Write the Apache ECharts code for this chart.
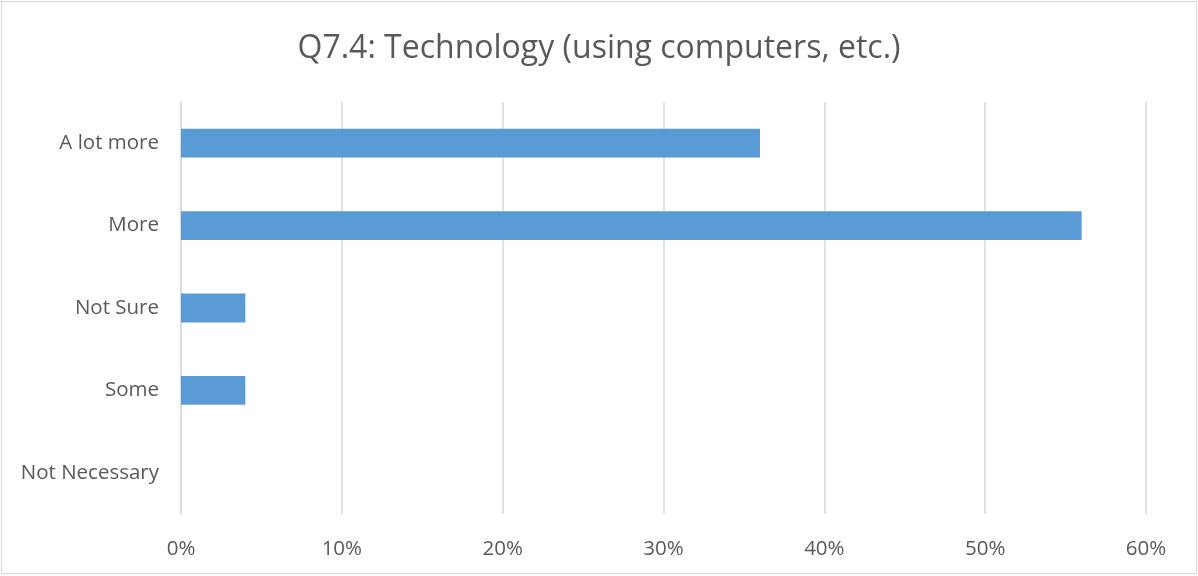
<!DOCTYPE html>
<html>
<head>
<meta charset="utf-8">
<script src="https://cdn.jsdelivr.net/npm/echarts@6/dist/echarts.min.js"></script>
<style>
  html, body { margin: 0; padding: 0; background: #fff; }
  #chart { width: 1196px; height: 573px; border: 1px solid #d9d9d9; margin: 1px 0 0 1px; box-sizing: border-box; }
</style>
</head>
<body>
<div id="chart"></div>
<script>
const titleText = 'Q7.4: Technology (using computers, etc.)';
const categories = ['A lot more', 'More', 'Not Sure', 'Some', 'Not Necessary'];
const percentValues = [36, 56, 4, 4, 0];
const axisMax = 60;
const axisStep = 10;

const chart = echarts.init(document.getElementById('chart'), null, { renderer: 'canvas' });
const textFont = 'Open Sans, Noto Sans, Liberation Sans, sans-serif';

chart.setOption({
  animation: false,
  title: {
    text: titleText,
    left: 'center',
    top: 26,
    textStyle: { fontFamily: textFont, fontSize: 32, fontWeight: 'normal', color: '#595959' }
  },
  grid: { left: 179, right: 50, top: 100, bottom: 59 },
  xAxis: {
    type: 'value',
    min: 0,
    max: axisMax,
    interval: axisStep,
    axisLine: { show: false },
    axisTick: { show: false },
    splitLine: { lineStyle: { color: '#d9d9d9', width: 1.5 } },
    axisLabel: {
      formatter: v => v + '%',
      margin: 25,
      fontFamily: textFont,
      fontSize: 20.5,
      color: '#595959'
    }
  },
  yAxis: {
    type: 'category',
    data: categories,
    inverse: true,
    axisLine: { show: true, lineStyle: { color: '#d9d9d9', width: 1.5 } },
    axisTick: { show: false },
    axisLabel: { margin: 22, fontFamily: textFont, fontSize: 20.5, color: '#595959', padding: [2, 0, 0, 0] }
  },
  series: [{
    type: 'bar',
    data: percentValues,
    barWidth: '35%',
    itemStyle: { color: '#5b9bd5' }
  }]
});
</script>
</body>
</html>
